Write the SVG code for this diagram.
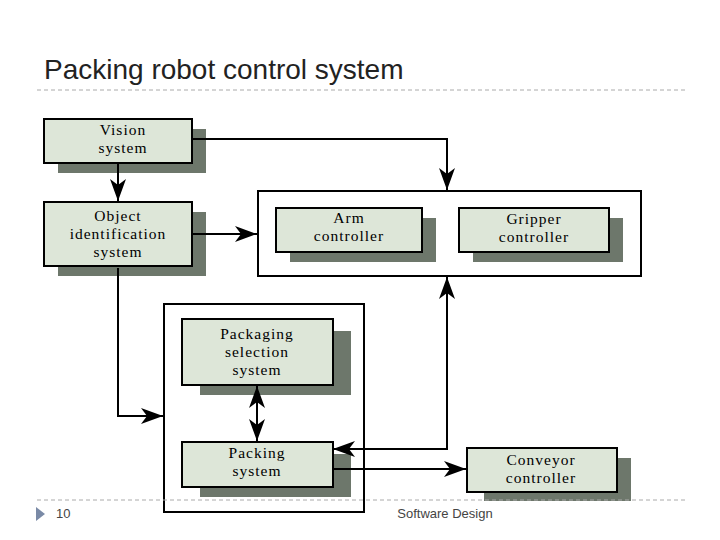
<svg xmlns="http://www.w3.org/2000/svg" width="720" height="540" viewBox="0 0 720 540">
<style>
.n{fill:#dde6d8;stroke:#000;stroke-width:2}
.s{fill:#6d776b}
.t{font-family:"Liberation Serif",serif;font-size:15.5px;text-anchor:middle;letter-spacing:1px}
.c{stroke:#000;stroke-width:2;fill:none}
.g{fill:#fff;stroke:#000;stroke-width:2}
</style>
<defs>
<marker id="b" viewBox="0 0 22 16" refX="22" refY="8" markerWidth="22" markerHeight="16" markerUnits="userSpaceOnUse" orient="auto-start-reverse"><path d="M0,0 L22,8 L0,16 L6,8 z" fill="#000"/></marker>
</defs>
<rect width="720" height="540" fill="#fff"/>
<text x="44" y="79" font-family="Liberation Sans,sans-serif" font-size="28" fill="#222">Packing robot control system</text>
<line x1="37" y1="90" x2="685" y2="90" stroke="#aaa" stroke-dasharray="4,3"/>
<g id="group-arm"><rect class="g" x="258" y="191" width="383" height="85"/></g>
<g id="group-pack"><rect class="g" x="164" y="304" width="200" height="208"/></g>
<g id="vision"><rect class="s" x="58" y="129" width="148" height="44"/><rect class="n" x="44" y="119" width="148" height="44"/><text class="t" x="123" y="135">Vision</text><text class="t" x="123" y="153">system</text></g>
<g id="object"><rect class="s" x="58" y="212" width="148" height="64"/><rect class="n" x="44" y="202" width="148" height="64"/><text class="t" x="118" y="221">Object</text><text class="t" x="118" y="239">identification</text><text class="t" x="118" y="257">system</text></g>
<g id="arm"><rect class="s" x="290" y="218" width="146" height="44"/><rect class="n" x="276" y="208" width="146" height="44"/><text class="t" x="349" y="223">Arm</text><text class="t" x="349" y="241">controller</text></g>
<g id="gripper"><rect class="s" x="473" y="218" width="150" height="44"/><rect class="n" x="459" y="208" width="150" height="44"/><text class="t" x="534" y="224">Gripper</text><text class="t" x="534" y="242">controller</text></g>
<g id="packsel"><rect class="s" x="200" y="331" width="151" height="64"/><rect class="n" x="182" y="319" width="151" height="66"/><text class="t" x="257" y="339">Packaging</text><text class="t" x="257" y="357">selection</text><text class="t" x="257" y="375">system</text></g>
<g id="packing"><rect class="s" x="200" y="454" width="151" height="43"/><rect class="n" x="182" y="442" width="151" height="45"/><text class="t" x="257" y="458">Packing</text><text class="t" x="257" y="476">system</text></g>
<g id="conveyor"><rect class="s" x="484" y="458" width="147" height="43"/><rect class="n" x="467" y="448" width="150" height="44"/><text class="t" x="541" y="465">Conveyor</text><text class="t" x="541" y="483">controller</text></g>
<g id="connectors">
<path class="c" d="M192,139 H447 V190" marker-end="url(#b)"/>
<path class="c" d="M118,163 V201" marker-end="url(#b)"/>
<path class="c" d="M192,234 H257" marker-end="url(#b)"/>
<path class="c" d="M118,268 V416 H163" marker-end="url(#b)"/>
<path class="c" d="M257,386 V441" marker-start="url(#b)" marker-end="url(#b)"/>
<path class="c" d="M333,449 H447 V277" marker-start="url(#b)" marker-end="url(#b)"/>
<path class="c" d="M333,469 H466" marker-end="url(#b)"/>
</g>
<line x1="37" y1="500" x2="685" y2="500" stroke="#aaa" stroke-dasharray="4,3"/>
<path d="M36,507 L45,514 L36,521 z" fill="#7a8aa6"/>
<text x="56" y="518" font-family="Liberation Sans,sans-serif" font-size="13" fill="#444">10</text>
<text x="445" y="518" font-family="Liberation Sans,sans-serif" font-size="13" fill="#444" text-anchor="middle">Software Design</text>
</svg>
